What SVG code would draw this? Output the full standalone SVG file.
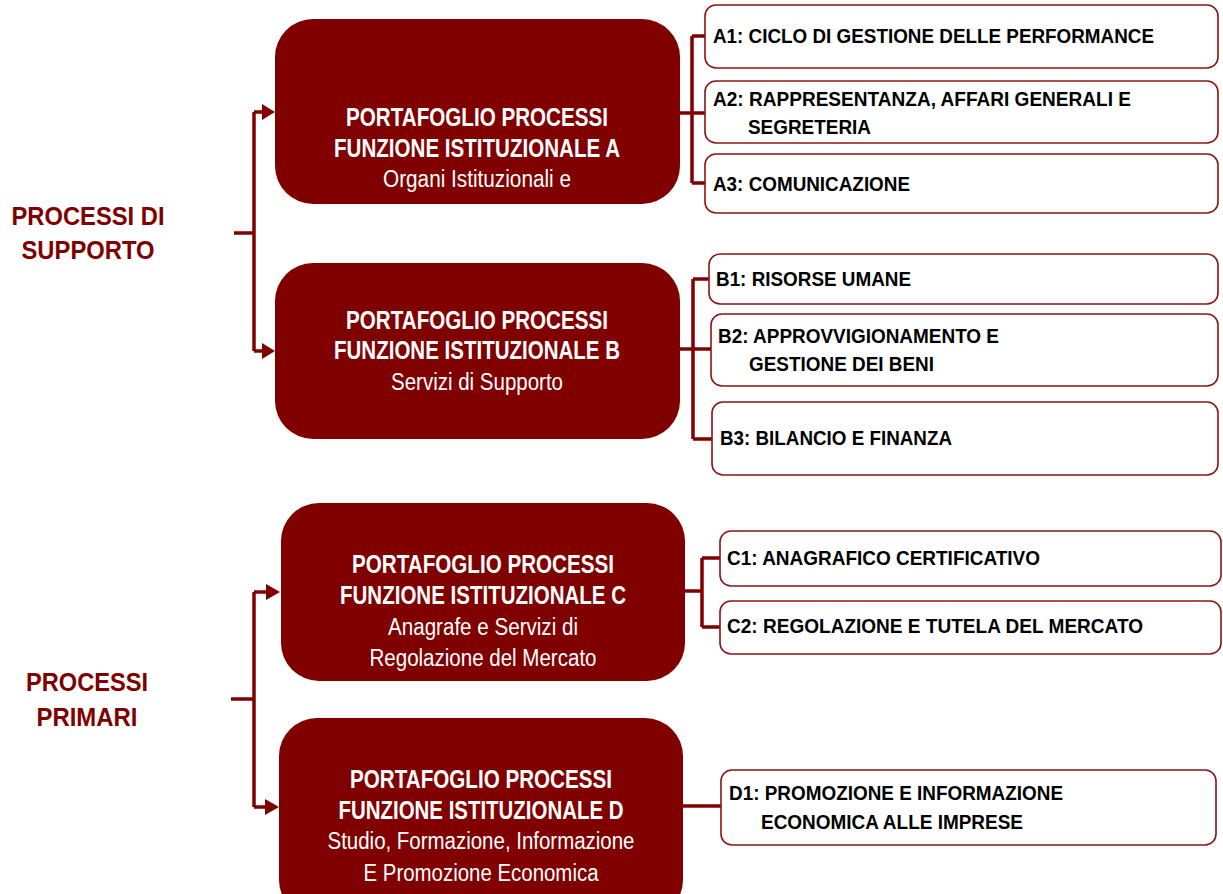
<svg xmlns="http://www.w3.org/2000/svg" width="1223" height="894" viewBox="0 0 1223 894">
<style>
.dk{fill:#800000}
.wb{fill:#fff;stroke:#8b1414;stroke-width:1.6}
.c{fill:none;stroke:#800000;stroke-width:3.5}
.t{font-family:"Liberation Sans",Arial,sans-serif;font-weight:bold;font-size:21px;fill:#000}
.h{font-family:"Liberation Sans",Arial,sans-serif;font-weight:bold;font-size:25px;fill:#fff;text-anchor:middle}
.r{font-family:"Liberation Sans",Arial,sans-serif;font-size:23px;fill:#fff;text-anchor:middle}
.l{font-family:"Liberation Sans",Arial,sans-serif;font-weight:bold;font-size:25.5px;fill:#800000;text-anchor:middle}
</style>
<g id="connectors">
<path class="c" d="M234,233 H254 M254,112 V351 M254,112 H264 M254,351 H264"/>
<path d="M262,104 L275,112 L262,120 z" class="dk"/>
<path d="M262,343 L275,351 L262,359 z" class="dk"/>
<path class="c" d="M231,699 H254 M254,592 V807 M254,592 H268 M254,807 H268"/>
<path d="M266,584 L280,592 L266,600 z" class="dk"/>
<path d="M265,799 L279,807 L265,815 z" class="dk"/>
<path class="c" d="M678,113 H692 M692,36 V183 M692,36 H706 M692,113 H706 M692,183 H706"/>
<path class="c" d="M678,349 H693 M693,279 V439 M693,279 H710 M693,349 H712 M693,439 H713"/>
<path class="c" d="M684,591 H702 M702,558 V627 M702,558 H721 M702,627 H721"/>
<path class="c" d="M682,806 H721"/>
</g>
<g id="labelSupporto">
<text class="l" x="88" y="225" textLength="153" lengthAdjust="spacingAndGlyphs">PROCESSI DI</text>
<text class="l" x="88" y="259" textLength="133" lengthAdjust="spacingAndGlyphs">SUPPORTO</text>
</g>
<g id="labelPrimari">
<text class="l" x="87" y="691" textLength="122" lengthAdjust="spacingAndGlyphs">PROCESSI</text>
<text class="l" x="87" y="726" textLength="101" lengthAdjust="spacingAndGlyphs">PRIMARI</text>
</g>
<g id="nodeA">
<rect class="dk" x="275" y="19" width="405" height="185" rx="38"/>
<text class="h" x="477" y="126" textLength="262" lengthAdjust="spacingAndGlyphs">PORTAFOGLIO PROCESSI</text>
<text class="h" x="477" y="157" textLength="286" lengthAdjust="spacingAndGlyphs">FUNZIONE ISTITUZIONALE A</text>
<text class="r" x="477" y="187" textLength="188" lengthAdjust="spacingAndGlyphs">Organi Istituzionali e</text>
</g>
<g id="nodeB">
<rect class="dk" x="275" y="263" width="405" height="176" rx="38"/>
<text class="h" x="477" y="329" textLength="262" lengthAdjust="spacingAndGlyphs">PORTAFOGLIO PROCESSI</text>
<text class="h" x="477" y="359" textLength="286" lengthAdjust="spacingAndGlyphs">FUNZIONE ISTITUZIONALE B</text>
<text class="r" x="477" y="390" textLength="172" lengthAdjust="spacingAndGlyphs">Servizi di Supporto</text>
</g>
<g id="nodeC">
<rect class="dk" x="281" y="503" width="404" height="178" rx="38"/>
<text class="h" x="483" y="573" textLength="262" lengthAdjust="spacingAndGlyphs">PORTAFOGLIO PROCESSI</text>
<text class="h" x="483" y="604" textLength="286" lengthAdjust="spacingAndGlyphs">FUNZIONE ISTITUZIONALE C</text>
<text class="r" x="483" y="635" textLength="190" lengthAdjust="spacingAndGlyphs">Anagrafe e Servizi di</text>
<text class="r" x="483" y="666" textLength="227" lengthAdjust="spacingAndGlyphs">Regolazione del Mercato</text>
</g>
<g id="nodeD">
<rect class="dk" x="279" y="718" width="404" height="200" rx="38"/>
<text class="h" x="481" y="788" textLength="262" lengthAdjust="spacingAndGlyphs">PORTAFOGLIO PROCESSI</text>
<text class="h" x="481" y="819" textLength="285" lengthAdjust="spacingAndGlyphs">FUNZIONE ISTITUZIONALE D</text>
<text class="r" x="481" y="849" textLength="307" lengthAdjust="spacingAndGlyphs">Studio, Formazione, Informazione</text>
<text class="r" x="481" y="881" textLength="235" lengthAdjust="spacingAndGlyphs">E Promozione Economica</text>
</g>
<g id="nodeA1">
<rect class="wb" x="705" y="5" width="513" height="63" rx="11"/>
<text class="t" x="713" y="43" textLength="441" lengthAdjust="spacingAndGlyphs">A1: CICLO DI GESTIONE DELLE PERFORMANCE</text>
</g>
<g id="nodeA2">
<rect class="wb" x="705" y="81" width="513" height="62" rx="11"/>
<text class="t" x="713" y="106" textLength="418" lengthAdjust="spacingAndGlyphs">A2: RAPPRESENTANZA, AFFARI GENERALI E</text>
<text class="t" x="748" y="134" textLength="123" lengthAdjust="spacingAndGlyphs">SEGRETERIA</text>
</g>
<g id="nodeA3">
<rect class="wb" x="705" y="154" width="513" height="59" rx="11"/>
<text class="t" x="713" y="191" textLength="197" lengthAdjust="spacingAndGlyphs">A3: COMUNICAZIONE</text>
</g>
<g id="nodeB1">
<rect class="wb" x="709" y="254" width="509" height="50" rx="11"/>
<text class="t" x="716" y="286" textLength="195" lengthAdjust="spacingAndGlyphs">B1: RISORSE UMANE</text>
</g>
<g id="nodeB2">
<rect class="wb" x="711" y="314" width="507" height="72" rx="11"/>
<text class="t" x="718" y="343" textLength="281" lengthAdjust="spacingAndGlyphs">B2: APPROVVIGIONAMENTO E</text>
<text class="t" x="749" y="371" textLength="185" lengthAdjust="spacingAndGlyphs">GESTIONE DEI BENI</text>
</g>
<g id="nodeB3">
<rect class="wb" x="712" y="402" width="506" height="73" rx="11"/>
<text class="t" x="720" y="445" textLength="232" lengthAdjust="spacingAndGlyphs">B3: BILANCIO E FINANZA</text>
</g>
<g id="nodeC1">
<rect class="wb" x="720" y="531" width="501" height="55" rx="11"/>
<text class="t" x="727" y="565" textLength="313" lengthAdjust="spacingAndGlyphs">C1: ANAGRAFICO CERTIFICATIVO</text>
</g>
<g id="nodeC2">
<rect class="wb" x="720" y="601" width="501" height="53" rx="11"/>
<text class="t" x="727" y="633" textLength="416" lengthAdjust="spacingAndGlyphs">C2: REGOLAZIONE E TUTELA DEL MERCATO</text>
</g>
<g id="nodeD1">
<rect class="wb" x="721" y="770" width="495" height="75" rx="11"/>
<text class="t" x="729" y="800" textLength="334" lengthAdjust="spacingAndGlyphs">D1: PROMOZIONE E INFORMAZIONE</text>
<text class="t" x="761" y="829" textLength="262" lengthAdjust="spacingAndGlyphs">ECONOMICA ALLE IMPRESE</text>
</g>
</svg>
